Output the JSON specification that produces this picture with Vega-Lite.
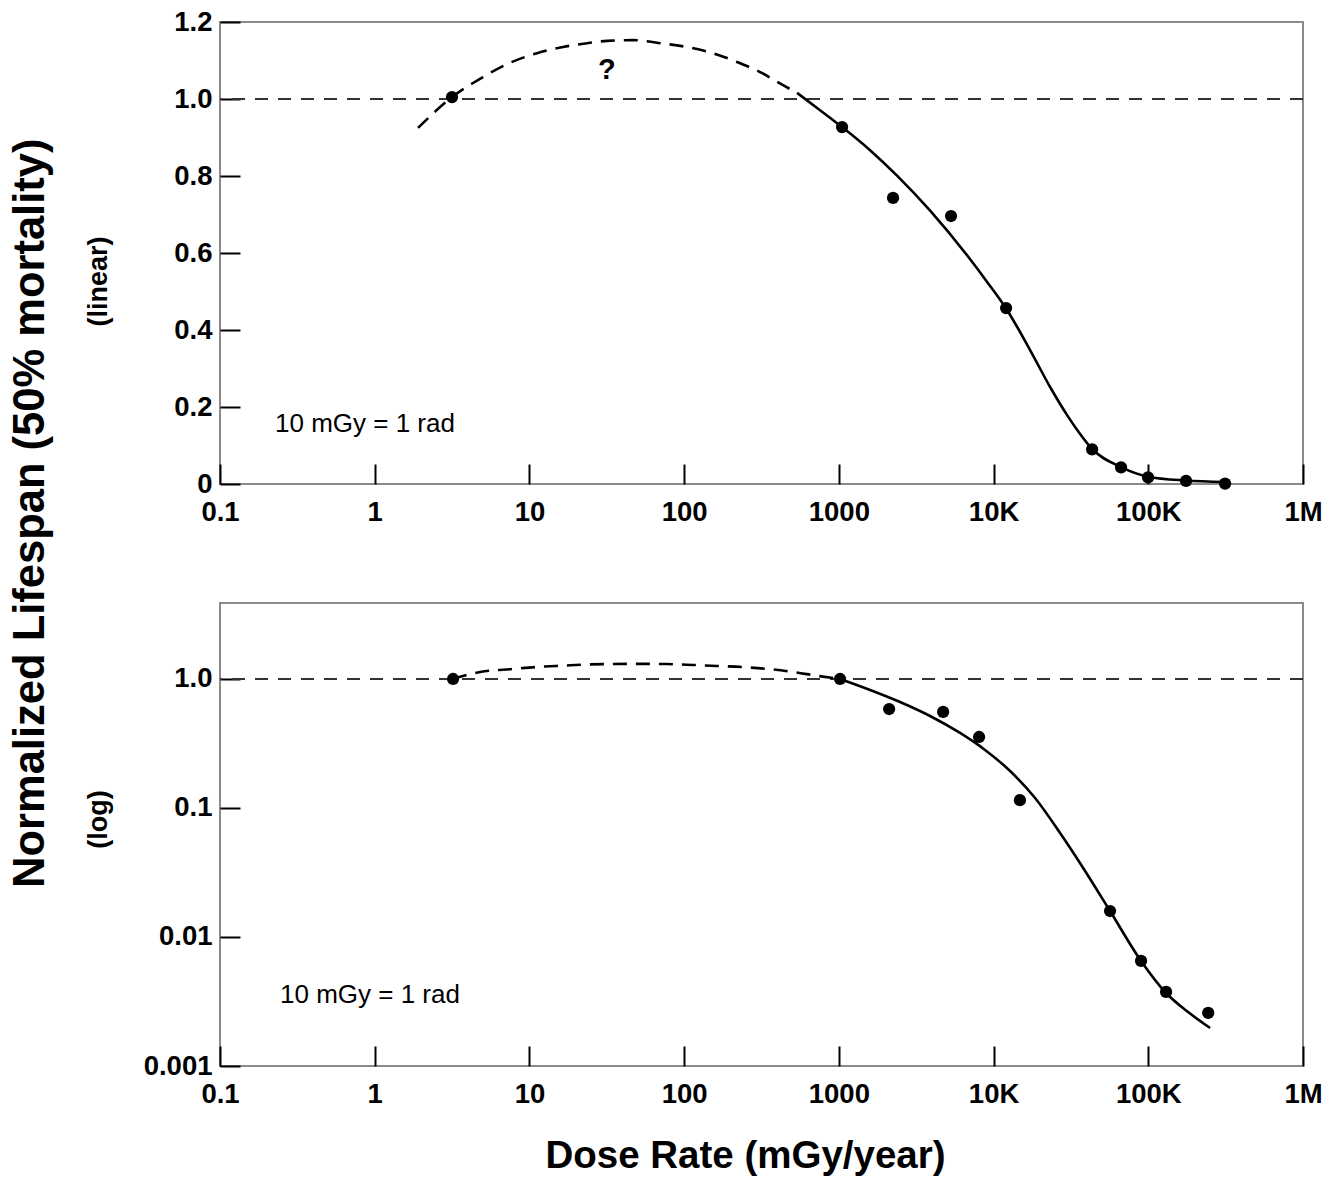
{
  "$schema": "https://vega.github.io/schema/vega-lite/v6.json",
  "background": "white",
  "padding": {"left": 8, "top": 7, "right": 12, "bottom": 4},
  "config": {
    "font": "Liberation Sans",
    "view": {"stroke": "#8a8a8a", "strokeWidth": 2},
    "axis": {
      "domain": false,
      "grid": false,
      "ticks": true,
      "tickColor": "#000",
      "tickWidth": 2,
      "tickSize": -20,
      "labelFont": "Liberation Sans",
      "labelFontSize": 27.5,
      "labelFontWeight": "bold",
      "labelColor": "#000",
      "labelOverlap": false,
      "labelFlush": false,
      "titleFont": "Liberation Sans",
      "titleColor": "#000"
    }
  },
  "title": {
    "text": "Normalized Lifespan (50% mortality)",
    "orient": "left",
    "anchor": "middle",
    "fontSize": 43.5,
    "fontWeight": "bold",
    "color": "#000",
    "font": "Liberation Sans",
    "offset": 30,
    "dx": 78
  },
  "datasets": {
    "ref": [{"y": 1}],
    "note_top": [{"x": 0.2267, "y": 0.135, "label": "10 mGy = 1 rad"}],
    "note_q": [{"x": 31.7, "y": 1.075, "label": "?"}],
    "note_bottom": [{"x": 0.2443, "y": 0.00308, "label": "10 mGy = 1 rad"}],
    "top_points": [
      {"x": 3.16, "y": 1.005}, {"x": 1049, "y": 0.927}, {"x": 2240, "y": 0.743},
      {"x": 5310, "y": 0.696}, {"x": 12050, "y": 0.457}, {"x": 43350, "y": 0.09},
      {"x": 66700, "y": 0.043}, {"x": 99700, "y": 0.017}, {"x": 175400, "y": 0.008},
      {"x": 313600, "y": 0.001}
    ],
    "top_dashed": [
      {"x": 1.905, "y": 0.925}, {"x": 3.16, "y": 1.005}, {"x": 5.01, "y": 1.057},
      {"x": 7.49, "y": 1.094}, {"x": 11.2, "y": 1.119}, {"x": 16.5, "y": 1.135},
      {"x": 23.6, "y": 1.145}, {"x": 31.8, "y": 1.151}, {"x": 46.8, "y": 1.153},
      {"x": 69.9, "y": 1.145}, {"x": 104.4, "y": 1.135}, {"x": 153.8, "y": 1.119},
      {"x": 219.8, "y": 1.096}, {"x": 309.6, "y": 1.07}, {"x": 435.6, "y": 1.036},
      {"x": 537, "y": 1.016}
    ],
    "top_solid": [
      {"x": 537, "y": 1.016}, {"x": 756, "y": 0.971}, {"x": 1049, "y": 0.927},
      {"x": 1591, "y": 0.867}, {"x": 2377, "y": 0.801}, {"x": 3890, "y": 0.71},
      {"x": 6740, "y": 0.594}, {"x": 8811, "y": 0.532}, {"x": 12050, "y": 0.456},
      {"x": 17220, "y": 0.348}, {"x": 23190, "y": 0.252}, {"x": 29870, "y": 0.179},
      {"x": 36250, "y": 0.13}, {"x": 43350, "y": 0.091}, {"x": 66700, "y": 0.044},
      {"x": 99700, "y": 0.019}, {"x": 175400, "y": 0.009}, {"x": 313600, "y": 0.005}
    ],
    "bottom_points": [
      {"x": 3.21, "y": 1.0}, {"x": 1018, "y": 1.0}, {"x": 2113, "y": 0.585},
      {"x": 4720, "y": 0.555}, {"x": 8060, "y": 0.355}, {"x": 14800, "y": 0.115},
      {"x": 56600, "y": 0.0159}, {"x": 89800, "y": 0.00652}, {"x": 130300, "y": 0.00375},
      {"x": 244000, "y": 0.00258}
    ],
    "bottom_dashed": [
      {"x": 3.21, "y": 1.0}, {"x": 4.8, "y": 1.133}, {"x": 7.83, "y": 1.195},
      {"x": 11.2, "y": 1.239}, {"x": 16.5, "y": 1.268}, {"x": 23.9, "y": 1.295},
      {"x": 34.7, "y": 1.307}, {"x": 51.9, "y": 1.31}, {"x": 77.5, "y": 1.305},
      {"x": 114.2, "y": 1.284}, {"x": 163.2, "y": 1.261}, {"x": 240.3, "y": 1.235},
      {"x": 348.5, "y": 1.195}, {"x": 505.8, "y": 1.133}, {"x": 734.5, "y": 1.055},
      {"x": 1018, "y": 1.0}
    ],
    "bottom_solid": [
      {"x": 1018, "y": 1.0}, {"x": 1592, "y": 0.822}, {"x": 2487, "y": 0.663},
      {"x": 3886, "y": 0.5166}, {"x": 6074, "y": 0.3815}, {"x": 8811, "y": 0.2816},
      {"x": 12785, "y": 0.1935}, {"x": 18550, "y": 0.1196}, {"x": 26910, "y": 0.064},
      {"x": 39040, "y": 0.0325}, {"x": 56620, "y": 0.0159}, {"x": 89800, "y": 0.00652},
      {"x": 130300, "y": 0.00368}, {"x": 180800, "y": 0.00262}, {"x": 251000, "y": 0.00197}
    ]
  },
  "spacing": 119,
  "bounds": "flush",
  "vconcat": [
    {
      "width": 1083,
      "height": 462,
      "layer": [
        {
          "data": {"name": "ref"},
          "mark": {"type": "rule", "stroke": "#333", "strokeWidth": 2, "strokeDash": [13, 10]},
          "encoding": {
            "y": {"field": "y", "type": "quantitative"}
          }
        },
        {
          "data": {"name": "top_dashed"},
          "mark": {"type": "line", "color": "#000", "strokeWidth": 2.6, "strokeDash": [14, 9], "interpolate": "monotone"},
          "encoding": {
            "x": {
              "field": "x", "type": "quantitative",
              "scale": {"type": "log", "domain": [0.1, 1000000]},
              "axis": {
                "values": [0.1, 1, 10, 100, 1000, 10000, 100000, 1000000],
                "labelExpr": "datum.value >= 1000000 ? '1M' : datum.value >= 10000 ? format(datum.value / 1000, 'd') + 'K' : datum.value < 1 ? '0.1' : format(datum.value, 'd')",
                "title": null,
                "labelPadding": 34
              }
            },
            "y": {
              "field": "y", "type": "quantitative",
              "scale": {"domain": [0, 1.2], "nice": false},
              "axis": {
                "values": [0, 0.2, 0.4, 0.6, 0.8, 1, 1.2],
                "labelExpr": "datum.value == 0 ? '0' : format(datum.value, '.1f')",
                "labelPadding": 28,
                "title": "(linear)",
                "titleFontSize": 27,
                "titleFontWeight": "bold",
                "titleX": -108,
                "titleY": 259
              }
            }
          }
        },
        {
          "data": {"name": "top_solid"},
          "mark": {"type": "line", "color": "#000", "strokeWidth": 2.6, "interpolate": "monotone"},
          "encoding": {
            "x": {"field": "x", "type": "quantitative", "scale": {"type": "log"}},
            "y": {"field": "y", "type": "quantitative"}
          }
        },
        {
          "data": {"name": "top_points"},
          "mark": {"type": "circle", "color": "#000", "opacity": 1, "size": 150},
          "encoding": {
            "x": {"field": "x", "type": "quantitative", "scale": {"type": "log"}},
            "y": {"field": "y", "type": "quantitative"}
          }
        },
        {
          "data": {"name": "note_top"},
          "mark": {"type": "text", "fontSize": 26, "align": "left", "baseline": "alphabetic", "color": "#000"},
          "encoding": {
            "x": {"field": "x", "type": "quantitative", "scale": {"type": "log"}},
            "y": {"field": "y", "type": "quantitative"},
            "text": {"field": "label"}
          }
        },
        {
          "data": {"name": "note_q"},
          "mark": {"type": "text", "fontSize": 29, "fontWeight": "bold", "align": "center", "baseline": "middle", "color": "#000"},
          "encoding": {
            "x": {"field": "x", "type": "quantitative", "scale": {"type": "log"}},
            "y": {"field": "y", "type": "quantitative"},
            "text": {"field": "label"}
          }
        }
      ]
    },
    {
      "width": 1083,
      "height": 463,
      "layer": [
        {
          "data": {"name": "ref"},
          "mark": {"type": "rule", "stroke": "#333", "strokeWidth": 2, "strokeDash": [13, 10]},
          "encoding": {
            "y": {"field": "y", "type": "quantitative", "scale": {"type": "log"}}
          }
        },
        {
          "data": {"name": "bottom_dashed"},
          "mark": {"type": "line", "color": "#000", "strokeWidth": 2.6, "strokeDash": [14, 9], "interpolate": "monotone"},
          "encoding": {
            "x": {
              "field": "x", "type": "quantitative",
              "scale": {"type": "log", "domain": [0.1, 1000000]},
              "axis": {
                "values": [0.1, 1, 10, 100, 1000, 10000, 100000, 1000000],
                "labelExpr": "datum.value >= 1000000 ? '1M' : datum.value >= 10000 ? format(datum.value / 1000, 'd') + 'K' : datum.value < 1 ? '0.1' : format(datum.value, 'd')",
                "labelPadding": 34,
                "title": "Dose Rate (mGy/year)",
                "titleFontSize": 38.5,
                "titleFontWeight": "bold",
                "titleX": 525,
                "titleY": 101,
                "titleBaseline": "alphabetic"
              }
            },
            "y": {
              "field": "y", "type": "quantitative",
              "scale": {"type": "log", "domain": [0.001, 3.88], "nice": false},
              "axis": {
                "values": [0.001, 0.01, 0.1, 1],
                "labelExpr": "datum.value == 1 ? '1.0' : datum.value == 0.1 ? '0.1' : datum.value == 0.01 ? '0.01' : '0.001'",
                "labelPadding": 28,
                "title": "(log)",
                "titleFontSize": 27,
                "titleFontWeight": "bold",
                "titleX": -108,
                "titleY": 216
              }
            }
          }
        },
        {
          "data": {"name": "bottom_solid"},
          "mark": {"type": "line", "color": "#000", "strokeWidth": 2.6, "interpolate": "monotone"},
          "encoding": {
            "x": {"field": "x", "type": "quantitative", "scale": {"type": "log"}},
            "y": {"field": "y", "type": "quantitative", "scale": {"type": "log"}}
          }
        },
        {
          "data": {"name": "bottom_points"},
          "mark": {"type": "circle", "color": "#000", "opacity": 1, "size": 150},
          "encoding": {
            "x": {"field": "x", "type": "quantitative", "scale": {"type": "log"}},
            "y": {"field": "y", "type": "quantitative", "scale": {"type": "log"}}
          }
        },
        {
          "data": {"name": "note_bottom"},
          "mark": {"type": "text", "fontSize": 26, "align": "left", "baseline": "alphabetic", "color": "#000"},
          "encoding": {
            "x": {"field": "x", "type": "quantitative", "scale": {"type": "log"}},
            "y": {"field": "y", "type": "quantitative", "scale": {"type": "log"}},
            "text": {"field": "label"}
          }
        }
      ]
    }
  ]
}
